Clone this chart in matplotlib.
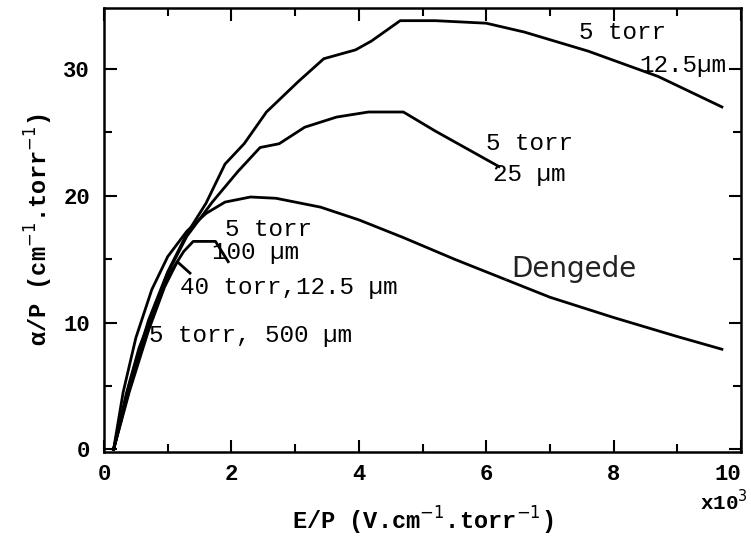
import matplotlib.pyplot as plt
from matplotlib.ticker import MultipleLocator

# E/P in units of 1e3 V/cm/torr, alpha/P in 1/(cm.torr)
ep_12 = [0.15, 0.4, 0.7, 1.0, 1.3, 1.6, 1.9, 2.2, 2.55, 3.05, 3.45, 3.95, 4.2, 4.65, 5.2, 6.0, 6.6, 7.6, 8.7, 9.7]
ap_12 = [0.0, 5.2, 10.2, 14.0, 17.0, 19.4, 22.5, 24.1, 26.6, 29.0, 30.8, 31.5, 32.2, 33.8, 33.8, 33.6, 32.9, 31.4, 29.4, 27.0]

ep_25 = [0.15, 0.4, 0.7, 1.0, 1.3, 1.7, 2.1, 2.45, 2.75, 3.15, 3.65, 4.15, 4.7, 5.2, 5.7, 6.2]
ap_25 = [0.0, 5.0, 10.0, 13.9, 16.8, 19.5, 21.9, 23.8, 24.1, 25.4, 26.2, 26.6, 26.6, 25.1, 23.7, 22.3]

ep_100 = [0.15, 0.4, 0.7, 1.0, 1.25, 1.4, 1.75, 1.95]
ap_100 = [0.0, 4.8, 9.8, 13.6, 15.6, 16.4, 16.4, 14.8]

ep_40 = [0.15, 0.4, 0.7, 0.95, 1.15, 1.35]
ap_40 = [0.0, 4.6, 9.4, 12.8, 14.8, 13.9]

ep_500 = [0.15, 0.35, 0.55, 0.72]
ap_500 = [0.0, 4.4, 8.0, 10.2]

ep_dg = [0.15, 0.3, 0.5, 0.75, 1.0, 1.3, 1.6, 1.9, 2.3, 2.7, 3.4, 4.0, 4.7, 5.5, 6.3, 7.0, 8.0, 9.0, 9.7]
ap_dg = [0.0, 4.5, 8.8, 12.6, 15.2, 17.2, 18.6, 19.5, 19.9, 19.8, 19.1, 18.1, 16.7, 15.0, 13.4, 12.0, 10.4, 8.9, 7.9]

curves = [(ep_12, ap_12), (ep_25, ap_25), (ep_100, ap_100),
          (ep_40, ap_40), (ep_500, ap_500), (ep_dg, ap_dg)]

mono = "Liberation Mono"

fig = plt.figure(figsize=(7.51, 5.43), dpi=100)
ax = fig.add_axes([0.1385, 0.1676, 0.8482, 0.8177])

for x, y in curves:
    ax.plot(x, y, color="black", lw=2.0, solid_joinstyle="round")

ax.set_xlim(0, 10)
ax.set_ylim(-0.2, 34.8)

ax.xaxis.set_major_locator(MultipleLocator(2))
ax.xaxis.set_minor_locator(MultipleLocator(1))
ax.yaxis.set_major_locator(MultipleLocator(10))
ax.yaxis.set_minor_locator(MultipleLocator(5))
ax.tick_params(which="both", direction="in", top=True, right=True, width=1.5)
ax.tick_params(which="major", length=9)
ax.tick_params(which="minor", length=6)
ax.tick_params(axis="x", pad=9)
ax.tick_params(axis="y", pad=10)
for lab in ax.get_xticklabels() + ax.get_yticklabels():
    lab.set_fontfamily(mono)
    lab.set_fontsize(16)
    lab.set_fontweight("bold")
for s in ax.spines.values():
    s.set_linewidth(1.8)

ax.set_xlabel("E/P (V.cm$^{-1}$.torr$^{-1}$)", family=mono, fontsize=17,
              fontweight="bold", labelpad=14)
ax.set_ylabel("\u03b1/P (cm$^{-1}$.torr$^{-1}$)", family=mono, fontsize=17,
              fontweight="bold", labelpad=6)
fig.text(0.932, 0.06, "x10$^{3}$", family=mono, fontsize=15, fontweight="bold")

txt = dict(family=mono, fontsize=17.5, color="black", va="center")
ax.text(7.45, 32.9, "5 torr", **txt)
ax.text(8.4, 30.3, "12.5\u00b5m", **txt)
ax.text(6.0, 24.1, "5 torr", **txt)
ax.text(6.1, 21.7, "25 \u00b5m", **txt)
ax.text(1.9, 17.3, "5 torr", **txt)
ax.text(1.7, 15.5, "100 \u00b5m", **txt)
ax.text(1.2, 12.8, "40 torr,12.5 \u00b5m", **txt)
ax.text(0.7, 9.0, "5 torr, 500 \u00b5m", **txt)

ax.annotate("Dengede", xy=(6.3, 13.4), xytext=(6.4, 13.6),
            fontsize=20, family="DejaVu Sans", color="#222222",
            arrowprops=dict(arrowstyle="-", color="#444444", lw=0.8))

# keep the "10" label inside the figure
fig.canvas.draw()
for tick in ax.xaxis.get_major_ticks():
    if abs(tick.get_loc() - 10) < 1e-6:
        tick.label1.set_horizontalalignment("right")
        tick.label1.set_x(10.12)

fig.savefig("out.png", dpi=100)
